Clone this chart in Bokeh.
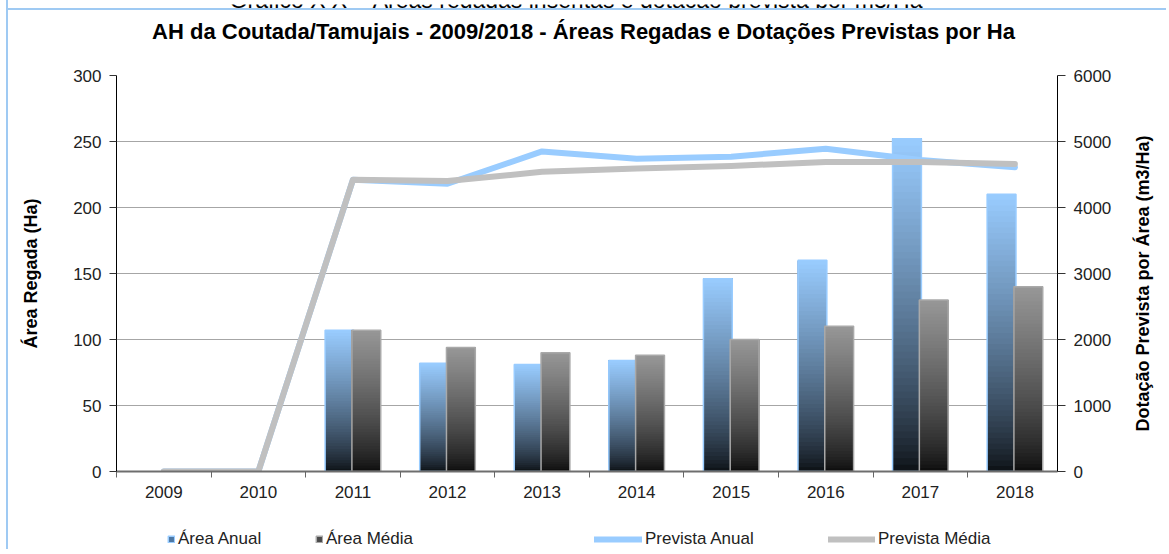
import numpy as np
from bokeh.plotting import figure
from bokeh.layouts import column
from bokeh.core.properties import value
from bokeh.models import (Range1d, LinearAxis, FixedTicker, Legend, LegendItem,
                          ColumnDataSource)
from bokeh.embed import file_html
from bokeh.resources import INLINE

# ---------------- data ----------------
years = ["2009", "2010", "2011", "2012", "2013", "2014", "2015", "2016", "2017", "2018"]
area_anual = [0, 0, 107, 82, 81, 84, 146, 160, 252, 210]          # Ha
area_media = [0, 0, 107, 94, 90, 88, 100, 110, 130, 140]          # Ha
prevista_anual = [0, 0, 4420, 4360, 4850, 4740, 4770, 4890, 4720, 4610]   # m3/Ha
prevista_media = [0, 0, 4420, 4400, 4540, 4590, 4630, 4690, 4690, 4660]   # m3/Ha

TITLE = "AH da Coutada/Tamujais - 2009/2018 - Áreas Regadas e Dotações Previstas por Ha"
CAPTION = "Gráfico X X – Áreas regadas inseritas e dotação prevista por m3/Ha"

FONT = "Liberation Sans"
BORDER = "2px solid #9fcaf3"
centers = [i + 0.5 for i in range(len(years))]

W = 1158
H_CAP = 8
H_TOP = 40
H_MAIN = 463
H_LEG = 38
FRAME_W = 946
LEFT_B = 108


def strip(height, yr):
    f = figure(width=W, height=height, output_backend="svg", toolbar_location=None,
               title=None, x_range=Range1d(0, FRAME_W), y_range=yr,
               x_axis_type=None, y_axis_type=None, min_border=0,
               background_fill_color="white", border_fill_color="white")
    f.outline_line_color = None
    f.grid.visible = False
    return f


# ---------------- caption strip (cut at the page top, as in the source) ----------------
cf = strip(H_CAP, Range1d(H_CAP, 0))
cf.text(x=[462], y=[-4.5], text=[CAPTION], text_font=value(FONT), text_font_size="23px",
        text_align="center", text_baseline="middle", text_color="black")

# ---------------- title strip ----------------
tf = strip(H_TOP, Range1d(H_TOP, 0))
tf.styles = {"border-top": BORDER}
tf.text(x=[469.5], y=[21], text=[TITLE], text_font=value(FONT), text_font_size="22px",
        text_font_style="bold", text_align="center", text_baseline="middle",
        text_color="black")

# ---------------- main chart ----------------
p = figure(width=W, height=H_MAIN, output_backend="svg", toolbar_location=None,
           title=None, x_range=Range1d(0, 9.95), y_range=Range1d(0, 300),
           min_border_left=LEFT_B, min_border_right=W - LEFT_B - FRAME_W, min_border_top=27,
           min_border_bottom=H_MAIN - 27 - 396, background_fill_color="white",
           border_fill_color="white")
p.outline_line_color = None

# grid
p.xgrid.grid_line_color = None
p.ygrid.grid_line_color = "#a6a6a6"
p.ygrid.grid_line_width = 1
p.ygrid.ticker = FixedTicker(ticks=list(range(0, 301, 50)))

# x axis
xa = p.xaxis[0]
xa.ticker = FixedTicker(ticks=centers, minor_ticks=list(range(0, 11)))
xa.major_label_overrides = {c: y for c, y in zip(centers, years)}
xa.major_tick_line_color = None
xa.major_tick_out = 0
xa.minor_tick_out = 6
xa.minor_tick_in = 0
xa.minor_tick_line_color = "#666666"
xa.axis_line_color = "#6e6e6e"
xa.axis_line_width = 2
xa.major_label_standoff = 8
xa.major_label_text_font = FONT
xa.major_label_text_font_size = "17px"
xa.major_label_text_color = "#222222"

# left y axis
ya = p.yaxis[0]
ya.ticker = FixedTicker(ticks=list(range(0, 301, 50)))
ya.major_tick_out = 7
ya.major_tick_in = 0
ya.minor_tick_line_color = None
ya.axis_line_color = "black"
ya.major_tick_line_color = "#333333"
ya.major_label_standoff = 8
ya.major_label_text_font = FONT
ya.major_label_text_font_size = "17px"
ya.major_label_text_color = "#222222"
ya.axis_label = "Área Regada (Ha)"
ya.axis_label_text_font = FONT
ya.axis_label_text_font_size = "18px"
ya.axis_label_text_font_style = "bold"
ya.axis_label_text_color = "black"
ya.axis_label_standoff = 29

# right y axis
RIGHT_LABEL = "Dotação Prevista por Área (m3/Ha)"
p.extra_y_ranges = {"dot": Range1d(0, 6000)}
ra = LinearAxis(y_range_name="dot", ticker=FixedTicker(ticks=list(range(0, 6001, 1000))))
ra.major_tick_out = 8
ra.major_tick_in = 0
ra.minor_tick_line_color = None
ra.axis_line_color = "black"
ra.major_tick_line_color = "#333333"
ra.major_label_standoff = 8
ra.major_label_text_font = FONT
ra.major_label_text_font_size = "17px"
ra.major_label_text_color = "#222222"
ra.axis_label_text_font = FONT
ra.axis_label_text_font_size = "18px"
ra.axis_label_text_font_style = "bold"
ra.axis_label_text_color = "black"
ra.axis_label_standoff = 29
try:
    ra.axis_label_orientation = np.pi / 2
    ra.axis_label_align = "start"
    ra.axis_label = "\u00a0" * 8 + RIGHT_LABEL
except Exception:
    ra.axis_label_orientation = "parallel"
    ra.axis_label = RIGHT_LABEL
p.add_layout(ra, "right")


# ---------------- gradient bars ----------------
def hex2rgb(h):
    h = h.lstrip("#")
    return tuple(int(h[i:i + 2], 16) for i in (0, 2, 4))


def lerp(c1, c2, t):
    a, b = hex2rgb(c1), hex2rgb(c2)
    return "#%02x%02x%02x" % tuple(int(round(a[i] + (b[i] - a[i]) * t)) for i in range(3))


N = 50
GAMMA = 0.75


def gradient_source(values, x0, x1, top_col, bot_col):
    l, r, b, t, c = [], [], [], [], []
    for i, v in enumerate(values):
        if v <= 0:
            continue
        cx = centers[i]
        for k in range(N):
            l.append(cx + x0)
            r.append(cx + x1)
            b.append(v * k / N)
            t.append(v)
            c.append(lerp(bot_col, top_col, ((k + 0.5) / N) ** GAMMA))
    return ColumnDataSource(dict(left=l, right=r, bottom=b, top=t, color=c))


def outline_source(values, x0, x1):
    l, r, t = [], [], []
    for i, v in enumerate(values):
        if v <= 0:
            continue
        l.append(centers[i] + x0)
        r.append(centers[i] + x1)
        t.append(v)
    return ColumnDataSource(dict(left=l, right=r, top=t, bottom=[0] * len(t)))


BLUE_OFF = (-0.294, 0.011)
GRAY_OFF = (-0.011, 0.294)

p.quad(left="left", right="right", bottom="bottom", top="top", fill_color="color",
       line_color=None, source=gradient_source(area_anual, *BLUE_OFF, "#99ccff", "#0b0e12"))
p.quad(left="left", right="right", bottom="bottom", top="top", fill_color=None,
       line_color="#99ccff", line_width=1.5, source=outline_source(area_anual, *BLUE_OFF))
p.quad(left="left", right="right", bottom="bottom", top="top", fill_color="color",
       line_color=None, source=gradient_source(area_media, *GRAY_OFF, "#979797", "#0b0b0b"))
p.quad(left="left", right="right", bottom="bottom", top="top", fill_color=None,
       line_color="#a9a9a9", line_width=1.5, source=outline_source(area_media, *GRAY_OFF))

# ---------------- lines ----------------
LINE_A = dict(line_color="#99ccff", line_width=6, line_join="round", line_cap="round")
LINE_M = dict(line_color="#c0c0c0", line_width=6, line_join="round", line_cap="round")
p.line(centers, prevista_anual, y_range_name="dot", **LINE_A)
p.line(centers, prevista_media, y_range_name="dot", **LINE_M)

# ---------------- legend strip (separate figure below) ----------------
lf = figure(width=W, height=H_LEG, output_backend="svg", toolbar_location=None,
            title=None, x_range=Range1d(0, 1), y_range=Range1d(0, 1), x_axis_type=None,
            y_axis_type=None, min_border=0, background_fill_color="white",
            border_fill_color="white")
lf.outline_line_color = None
lf.grid.visible = False

# legend proxies placed outside the visible range
leg_a = lf.quad(left=[-5], right=[-4], top=[-4], bottom=[-5], fill_color="#4d77a3",
                line_color="#99ccff", line_width=1.5)
leg_m = lf.quad(left=[-5], right=[-4], top=[-4], bottom=[-5], fill_color="#4a4a4a",
                line_color="#a9a9a9", line_width=1.5)
leg_la = lf.line([-5, -4], [-5, -4], **LINE_A)
leg_lm = lf.line([-5, -4], [-5, -4], **LINE_M)


def add_legend(label, rend, x, gw, gh):
    lg = Legend(items=[LegendItem(label=label, renderers=[rend])], location=(x, 0),
                orientation="horizontal", glyph_width=gw, glyph_height=gh,
                label_standoff=3, padding=0, margin=0, spacing=0,
                border_line_color=None, background_fill_alpha=0,
                label_text_font=FONT, label_text_font_size="17px",
                label_text_color="#222222", label_height=20)
    lf.add_layout(lg)


add_legend("Área Anual", leg_a, 51, 8, 8)
add_legend("Área Média", leg_m, 199, 8, 8)
add_legend("Prevista Anual", leg_la, 478, 48, 20)
add_legend("Prevista Média", leg_lm, 712, 47, 20)

layout = column(cf, tf, p, lf, spacing=0)
layout.styles = {"margin-left": "6px", "border-left": BORDER}
open("out.html", "w").write(file_html(layout, INLINE))
